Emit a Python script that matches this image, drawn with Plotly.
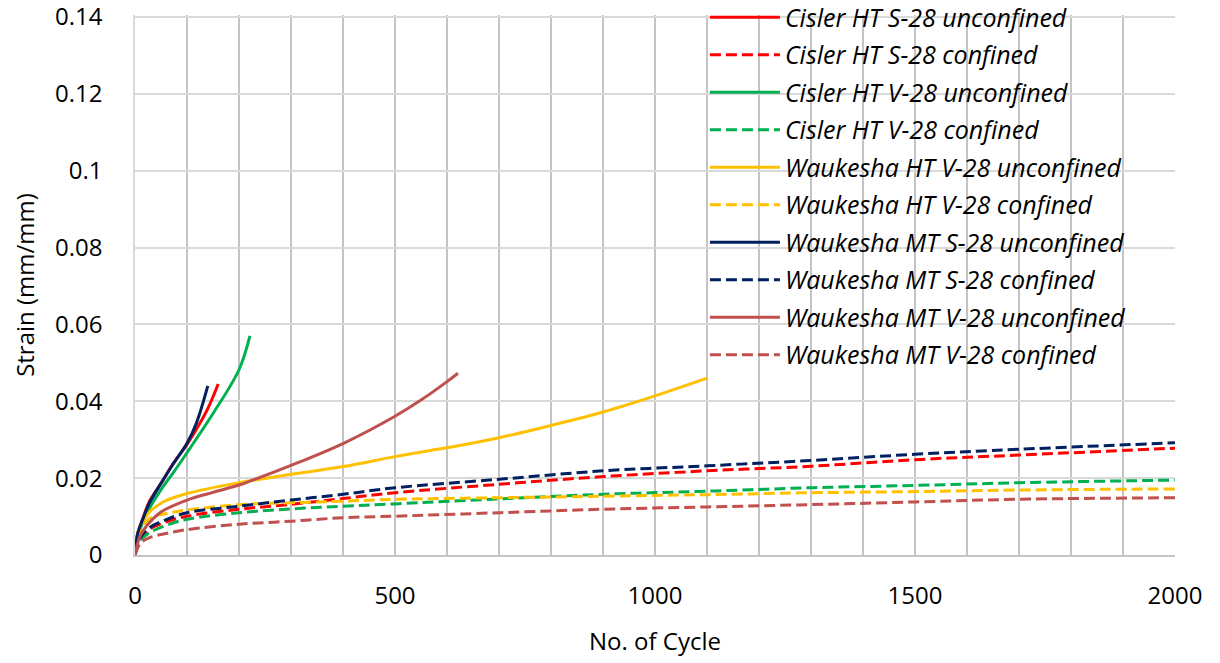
import plotly.graph_objects as go

# Cycle counts and strain readings (mm/mm) for each test series
cisler_s_unconf_x = [0, 5, 15, 28, 54, 73, 100, 118, 140, 160]
cisler_s_unconf_y = [0, 0.0055, 0.0095, 0.014, 0.0195, 0.0237, 0.0288, 0.0327, 0.0381, 0.0445]

cisler_v_unconf_x = [0, 5, 15, 28, 54, 73, 100, 150, 200, 221]
cisler_v_unconf_y = [0, 0.0048, 0.0085, 0.0122, 0.0178, 0.0213, 0.0266, 0.0368, 0.0482, 0.057]

wauk_ht_v_unconf_x = [0, 5, 10, 28, 54, 100, 200, 300, 400, 500, 568, 600, 700, 800, 900, 1000, 1100]
wauk_ht_v_unconf_y = [0, 0.0055, 0.0075, 0.0112, 0.0138, 0.016, 0.0188, 0.021, 0.023, 0.0256, 0.0272,
                      0.0279, 0.0305, 0.0337, 0.0372, 0.0414, 0.046]

wauk_mt_s_unconf_x = [0, 5, 15, 28, 54, 73, 100, 118, 140]
wauk_mt_s_unconf_y = [0, 0.0055, 0.0093, 0.0136, 0.0195, 0.0236, 0.0291, 0.0343, 0.044]

wauk_mt_v_unconf_x = [0, 10, 25, 50, 100, 150, 200, 221, 300, 400, 500, 550, 600, 621]
wauk_mt_v_unconf_y = [0, 0.005, 0.008, 0.0112, 0.0143, 0.0163, 0.0182, 0.0192, 0.0233, 0.029, 0.0361,
                      0.0403, 0.0451, 0.0473]

confined_x = [0, 10, 28, 60, 100, 200, 300, 400, 500, 700, 900, 1100, 1300, 1500, 1700, 2000]
cisler_s_conf_y = [0, 0.0042, 0.0067, 0.0086, 0.0101, 0.0119, 0.0132, 0.0147, 0.0162, 0.0184, 0.0204,
                   0.0219, 0.0231, 0.0248, 0.026, 0.0278]
cisler_v_conf_y = [0, 0.0038, 0.0058, 0.0077, 0.0093, 0.011, 0.012, 0.0127, 0.0133, 0.0146, 0.0158,
                   0.0166, 0.0175, 0.0181, 0.0188, 0.0195]
wauk_ht_v_conf_y = [0, 0.006, 0.0095, 0.0108, 0.0117, 0.0131, 0.0136, 0.014, 0.0145, 0.0149, 0.0153,
                    0.0157, 0.0162, 0.0165, 0.0169, 0.0172]
wauk_mt_s_conf_y = [0, 0.0045, 0.0071, 0.0092, 0.011, 0.0127, 0.0143, 0.0158, 0.0175, 0.0197, 0.0219,
                    0.0232, 0.0246, 0.0262, 0.0275, 0.0292]
wauk_mt_v_conf_y = [0, 0.003, 0.0045, 0.0056, 0.0066, 0.008, 0.0088, 0.0097, 0.0101, 0.011, 0.0119,
                    0.0125, 0.0131, 0.0138, 0.0145, 0.0149]

y_ticks = [0, 0.02, 0.04, 0.06, 0.08, 0.1, 0.12, 0.14]
y_tick_labels = ["0", "0.02", "0.04", "0.06", "0.08", "0.1", "0.12", "0.14"]

series = [
    ("Cisler HT S-28 unconfined", cisler_s_unconf_x, cisler_s_unconf_y, "#FF0000", "solid"),
    ("Cisler HT S-28 confined", confined_x, cisler_s_conf_y, "#FF0000", "dash"),
    ("Cisler HT V-28 unconfined", cisler_v_unconf_x, cisler_v_unconf_y, "#00B050", "solid"),
    ("Cisler HT V-28 confined", confined_x, cisler_v_conf_y, "#00B050", "dash"),
    ("Waukesha HT V-28 unconfined", wauk_ht_v_unconf_x, wauk_ht_v_unconf_y, "#FFC000", "solid"),
    ("Waukesha HT V-28 confined", confined_x, wauk_ht_v_conf_y, "#FFC000", "dash"),
    ("Waukesha MT S-28 unconfined", wauk_mt_s_unconf_x, wauk_mt_s_unconf_y, "#002060", "solid"),
    ("Waukesha MT S-28 confined", confined_x, wauk_mt_s_conf_y, "#002060", "dash"),
    ("Waukesha MT V-28 unconfined", wauk_mt_v_unconf_x, wauk_mt_v_unconf_y, "#C0504D", "solid"),
    ("Waukesha MT V-28 confined", confined_x, wauk_mt_v_conf_y, "#C0504D", "dash"),
]

FONT = "Open Sans, Lato, Noto Sans, sans-serif"

fig = go.Figure()
for i, (name, xs, ys, color, style) in enumerate(series):
    fig.add_trace(go.Scatter(
        x=xs, y=ys, name=name, mode="lines",
        legendgroup=f"g{i}",
        line=dict(color=color, width=3, shape="spline", smoothing=1.0,
                  dash="11px,5px" if style == "dash" else "solid"),
    ))

fig.update_layout(
    width=1220, height=663,
    margin=dict(l=135, r=45, t=15, b=108, autoexpand=False),
    paper_bgcolor="white", plot_bgcolor="white",
    font=dict(family=FONT, size=24, color="#000000"),
    showlegend=True,
    legend=dict(
        x=0.548, y=1.038, xanchor="left", yanchor="top",
        bgcolor="rgba(0,0,0,0)", borderwidth=0,
        font=dict(family=FONT, size=25, color="#000000", style="italic"),
        traceorder="grouped", tracegroupgap=2, itemwidth=70,
        maxheight=1.0,
    ),
    xaxis=dict(
        range=[0, 2000], dtick=500, tick0=0,
        showgrid=True, gridcolor="#C4C4C4", gridwidth=1.5,
        minor=dict(dtick=100, showgrid=True, gridcolor="#C4C4C4", gridwidth=1.5),
        showline=True, linecolor="#C4C4C4", linewidth=1.5,
        ticks="outside", ticklen=18, tickcolor="rgba(0,0,0,0)",
        zeroline=False, ticklabeloverflow="allow",
        title=dict(text="No. of Cycle", font=dict(family=FONT, size=24), standoff=24),
        tickfont=dict(family=FONT, size=24),
    ),
    yaxis=dict(
        range=[0, 0.1405],
        tickmode="array", tickvals=y_ticks, ticktext=y_tick_labels,
        showgrid=True, gridcolor="#D9D9D9", gridwidth=1.5,
        showline=True, linecolor="#D9D9D9", linewidth=1.5,
        ticks="outside", ticklen=26, tickcolor="rgba(0,0,0,0)",
        zeroline=False, ticklabeloverflow="allow",
        title=dict(text="Strain (mm/mm)", font=dict(family=FONT, size=24), standoff=14),
        tickfont=dict(family=FONT, size=24),
    ),
)

fig.write_html("out.html")
